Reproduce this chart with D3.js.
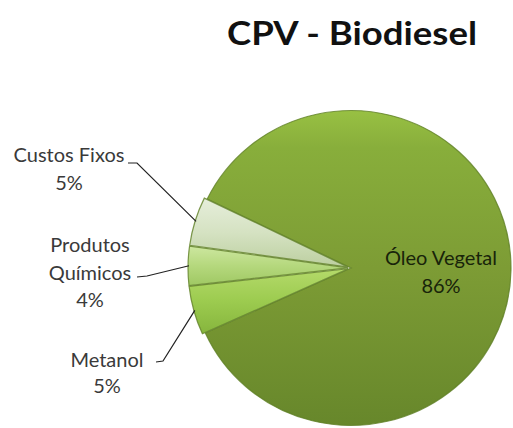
<!DOCTYPE html>
<html><head><meta charset="utf-8">
<script src="https://cdn.jsdelivr.net/npm/d3@7"></script>
<style>html,body{margin:0;padding:0;background:#fff}svg{display:block}</style>
</head><body>
<script>
const categories = ["Óleo Vegetal", "Metanol", "Produtos Químicos", "Custos Fixos"];
const values = [86, 5, 4, 5];
const percentLabels = ["86%", "5%", "4%", "5%"];
const labelLines = [["Óleo Vegetal"], ["Metanol"], ["Produtos", "Químicos"], ["Custos Fixos"]];
const title = "CPV - Biodiesel";

const W = 513, H = 428;
const svg = d3.select("body").append("svg").attr("width", W).attr("height", H);
const defs = svg.append("defs");

function lg(id, stops, x1, y1, x2, y2) {
  const g = defs.append("linearGradient").attr("id", id)
    .attr("x1", x1).attr("y1", y1).attr("x2", x2).attr("y2", y2);
  stops.forEach(s => g.append("stop").attr("offset", s[0]).attr("stop-color", s[1]));
}
lg("gOleo", [[0, "#98c043"], [0.12, "#88ae3b"], [0.5, "#7d9c35"], [1, "#67872b"]], 0, 0, 0, 1);
lg("gMet", [[0, "#b4da6a"], [0.5, "#9ccb4f"], [1, "#86b53d"]], 0, 0, 0, 1);
lg("gProd", [[0, "#cde7a0"], [0.5, "#b5d87d"], [1, "#9fc863"]], 0, 0, 0, 1);
lg("gCust", [[0, "#e6eedb"], [0.5, "#d5e2c2"], [1, "#bccfa0"]], 0, 0, 0, 1);
const fills = ["url(#gOleo)", "url(#gMet)", "url(#gProd)", "url(#gCust)"];

const cx = 351, cy = 268, R = 160;
const startDeg = -64;
const pie = d3.pie().sort(null).value(d => d)
  .startAngle(startDeg * Math.PI / 180).endAngle((startDeg + 360) * Math.PI / 180);
const arcs = pie(values);
const arc = d3.arc().innerRadius(0).outerRadius(R);

const g = svg.append("g").attr("transform", `translate(${cx},${cy}) scale(1,0.984)`);
const explode = [0, 3, 3, 3];
g.selectAll("path.slice").data(arcs).join("path")
  .attr("class", "slice")
  .attr("transform", (d, i) => {
    const a = (d.startAngle + d.endAngle) / 2;
    return `translate(${Math.sin(a) * explode[i]},${-Math.cos(a) * explode[i]})`;
  })
  .attr("d", arc)
  .attr("fill", (d, i) => fills[i])
  .attr("stroke", "#5f7f26")
  .attr("stroke-opacity", 0.8)
  .attr("stroke-width", 1.2);

// title
svg.append("text").attr("x", 352).attr("y", 45)
  .attr("text-anchor", "middle")
  .attr("font-family", "Lato, 'Open Sans', sans-serif")
  .attr("font-weight", "bold").attr("font-size", 32)
  .attr("textLength", 250).attr("lengthAdjust", "spacingAndGlyphs")
  .attr("fill", "#111")
  .text(title);

const font = "Lato, 'Open Sans', sans-serif";
// Óleo label inside
const ol = svg.append("text").attr("text-anchor", "middle")
  .attr("font-family", font).attr("font-size", 20).attr("fill", "#18240a");
ol.append("tspan").attr("x", 441).attr("y", 265).text(labelLines[0][0]);
ol.append("tspan").attr("x", 441).attr("y", 293).text(percentLabels[0]);

// outside labels
const outside = [
  { i: 3, x: 69, ys: [162, 190], lineStart: [128, 163], lineKnee: [137, 163] },
  { i: 2, x: 90, ys: [252, 280, 307], lineStart: [137, 277], lineKnee: [147, 276] },
  { i: 1, x: 107, ys: [367, 393], lineStart: [156, 362], lineKnee: [163, 361] }
];
outside.forEach(o => {
  const d = arcs[o.i];
  const a = (d.startAngle + d.endAngle) / 2;
  const rr = R + explode[o.i] - 1;
  const ex = cx + Math.sin(a) * rr, ey = cy - Math.cos(a) * rr * 0.984;
  svg.append("path")
    .attr("d", `M${o.lineStart[0]},${o.lineStart[1]}L${o.lineKnee[0]},${o.lineKnee[1]}L${ex},${ey}`)
    .attr("fill", "none").attr("stroke", "#222").attr("stroke-width", 1.2);
  const t = svg.append("text").attr("text-anchor", "middle")
    .attr("font-family", font).attr("font-size", 20).attr("fill", "#3a3a3a");
  const lines = labelLines[o.i].concat([percentLabels[o.i]]);
  lines.forEach((ln, k) => t.append("tspan").attr("x", o.x).attr("y", o.ys[k]).text(ln));
});
</script>
</body></html>
